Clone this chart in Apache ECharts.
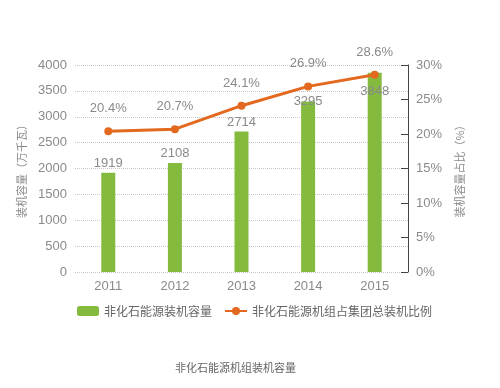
<!DOCTYPE html>
<html>
<head>
<meta charset="utf-8">
<script src="https://cdn.jsdelivr.net/npm/echarts@6/dist/echarts.min.js"></script>
<style>html,body{margin:0;padding:0;background:#fff}#c{width:500px;height:388px}</style>
</head>
<body>
<div id="c"></div>
<script>
const years = ['2011', '2012', '2013', '2014', '2015'];
const capacity = [1919, 2108, 2714, 3295, 3848];
const ratio = [20.4, 20.7, 24.1, 26.9, 28.6];
const capacityName = '非化石能源装机容量';
const ratioName = '非化石能源机组占集团总装机比例';
const leftAxisName = '装机容量（万千瓦）';
const rightAxisName = '装机容量占比（%）';
const titleText = '非化石能源机组装机容量';

const font = '"Liberation Sans", "Noto Sans CJK SC", sans-serif';
const cjk = '"Noto Sans CJK SC", sans-serif';
const green = '#84bb3f';
const orange = '#e2691f';
const gray = '#8a8a8a';

const barData = capacity.map((v, i) => {
  const item = { value: v };
  if (i === 3) item.label = { position: 'top', distance: -6 };
  if (i === 4) item.label = { position: 'insideTop', distance: 12 };
  return item;
});

const chart = echarts.init(document.getElementById('c'));
chart.setOption({
  animation: false,
  textStyle: { fontFamily: font },
  title: {
    text: titleText,
    left: 170, top: 357,
    textStyle: { fontSize: 11, fontWeight: 'normal', color: '#666', fontFamily: cjk }
  },
  legend: {
    left: 72, top: 300,
    itemWidth: 22, itemHeight: 10, itemGap: 12,
    textStyle: { fontSize: 12, color: '#666', fontFamily: cjk },
    data: [capacityName, ratioName]
  },
  grid: { left: 75, right: 92, top: 65, bottom: 116 },
  xAxis: {
    type: 'category',
    data: years,
    axisLine: { show: false },
    axisTick: { show: false },
    axisLabel: { fontSize: 13, color: gray, margin: 8, fontFamily: font }
  },
  yAxis: [{
    type: 'value', min: 0, max: 4000, interval: 500,
    name: leftAxisName, nameLocation: 'middle', nameRotate: 90, nameGap: 48,
    nameTextStyle: { fontSize: 11, color: gray, fontFamily: cjk },
    axisLine: { show: false }, axisTick: { show: false },
    axisLabel: { fontSize: 13, color: gray, margin: 8, fontFamily: font, formatter: v => String(v) },
    splitLine: { lineStyle: { type: 'dotted', color: '#c8c8c8' } }
  }, {
    type: 'value', min: 0, max: 30, interval: 5,
    name: rightAxisName, nameLocation: 'middle', nameRotate: 90, nameGap: 46,
    nameTextStyle: { fontSize: 11, color: gray, fontFamily: cjk },
    axisLine: { show: true, lineStyle: { color: '#444', width: 1 } },
    axisTick: { show: true, inside: true, length: 7, lineStyle: { color: '#444' } },
    axisLabel: { fontSize: 13, color: gray, margin: 8, formatter: '{value}%', fontFamily: font },
    splitLine: { show: false }
  }],
  series: [{
    name: capacityName,
    type: 'bar',
    data: barData,
    barWidth: 14,
    itemStyle: { color: green },
    label: { show: true, position: 'top', distance: 3, fontSize: 13, color: gray, fontFamily: font }
  }, {
    name: ratioName,
    type: 'line',
    yAxisIndex: 1,
    data: ratio,
    symbol: 'circle', symbolSize: 8,
    lineStyle: { color: orange, width: 3 },
    itemStyle: { color: orange },
    label: { show: true, position: 'top', distance: 12, fontSize: 13, color: gray, formatter: '{c}%', fontFamily: font }
  }]
});
</script>
</body>
</html>
